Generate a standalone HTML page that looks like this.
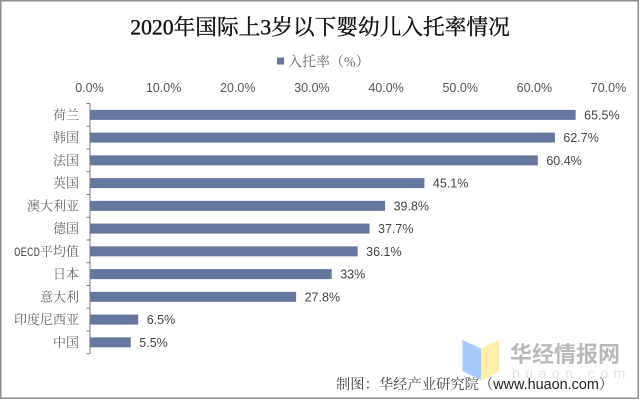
<!DOCTYPE html>
<html>
<head>
<meta charset="utf-8">
<style>
html,body{margin:0;padding:0;background:#fff;width:640px;height:400px;overflow:hidden}
svg{display:block;filter:blur(0.35px)}
text{font-family:"Liberation Sans","Noto Sans CJK SC",sans-serif}
.serif{font-family:"Liberation Serif","Noto Serif CJK SC",serif}
</style>
</head>
<body>
<svg id="chart" width="640" height="400" viewBox="0 0 640 400" xmlns="http://www.w3.org/2000/svg">
  <rect x="0" y="0" width="640" height="400" fill="#ffffff"/>
  <rect x="0.75" y="0.75" width="637.5" height="397.5" fill="none" stroke="#8c8c8c" stroke-width="1.5"/>
  <text class="serif" x="320" y="34.500" text-anchor="middle" font-size="21.7" fill="#111" stroke="#111" stroke-width="0.35">2020年国际上3岁以下婴幼儿入托率情况</text>
  <rect x="277" y="57.500" width="7" height="7" fill="#64789f"/>
  <text class="serif" x="288" y="66.500" font-size="14" fill="#666">入托率（%）</text>
  <g id="x-axis"></g>
  <g id="bars"></g>
  <g id="y-axis"></g>
  <g>
    <polygon points="462.500,340 481,348.500 481,380 462.500,371" fill="#a6c9fb"/>
    <polygon points="481,348.500 499,340 499,372 481,381" fill="#fdeeac"/>
    <text x="510" y="362" font-size="22" font-weight="bold" fill="#b9b9b9">华经情报网</text>
    <text x="512" y="378" font-size="14" letter-spacing="5.500" fill="#e2e2e2">huaon.com</text>
  </g>
  <text class="serif" x="336" y="389" font-size="14.300" fill="#444">制图：华经产业研究院（<tspan font-family="Liberation Sans" font-size="14.400" fill="#222">www.huaon.com</tspan>）</text>
</svg>
<script>
var categories = ['荷兰','韩国','法国','英国','澳大利亚','德国','OECD平均值','日本','意大利','印度尼西亚','中国'];
var rateValues = [65.5,62.7,60.4,45.1,39.8,37.7,36.1,32.6,27.8,6.5,5.5];
var valueLabels = ['65.5%','62.7%','60.4%','45.1%','39.8%','37.7%','36.1%','33%','27.8%','6.5%','5.5%'];
var tickValues = [0,10,20,30,40,50,60,70];
var tickLabels = ['0.0%','10.0%','20.0%','30.0%','40.0%','50.0%','60.0%','70.0%'];

var NS = 'http://www.w3.org/2000/svg';
var plotLeft = 90, plotRight = 609, plotTop = 103.5, plotBottom = 353.7, axisMax = 70;
function xScale(v){ return plotLeft + (plotRight - plotLeft) * v / axisMax; }
function bandTop(i){ return plotTop + (plotBottom - plotTop) * i / categories.length; }
function bandHeight(){ return (plotBottom - plotTop) / categories.length; }
function make(tag, attrs, text){
  var el = document.createElementNS(NS, tag);
  for (var k in attrs) el.setAttribute(k, attrs[k]);
  if (text !== undefined) el.textContent = text;
  return el;
}
var xAxis = document.getElementById('x-axis');
var barsGroup = document.getElementById('bars');
var yAxis = document.getElementById('y-axis');

tickValues.forEach(function(t, i){
  var label = make('text', {x: xScale(t) - 0.5, y: 92, 'text-anchor': 'middle', 'font-size': 12.5, fill: '#555'}, tickLabels[i]);
  
  
  xAxis.appendChild(label);
});

var spine = make('line', {x1: plotLeft, x2: plotLeft, y1: plotTop, y2: plotBottom, stroke: '#777', 'stroke-width': 1});


yAxis.appendChild(spine);

for (var j = 0; j <= categories.length; j++) {
  var y = bandTop(j);
  var tick = make('line', {x1: plotLeft - 3.5, x2: plotLeft, y1: y, y2: y, stroke: '#777', 'stroke-width': 1});
  
  
  yAxis.appendChild(tick);
}

categories.forEach(function(c, i){
  var mid = bandTop(i) + bandHeight() / 2;
  var bar = make('rect', {x: plotLeft, y: mid - 5, width: xScale(rateValues[i]) - plotLeft, height: 10, fill: '#64789f'});
  
  
  barsGroup.appendChild(bar);

  var value = make('text', {x: xScale(rateValues[i]) + 8.5, y: mid + 4.500, 'font-size': 12.500, fill: '#444'}, valueLabels[i]);
  
  
  barsGroup.appendChild(value);

  var name = make('text', {x: 79, y: mid + 4.500, 'text-anchor': 'end', 'font-size': 13, fill: '#666', 'class': 'serif'});
  
  
  var latin = c.match(/^[A-Z]+/);
  if (latin) {
    var run = make('tspan', {'font-family': 'Liberation Mono', 'font-size': 12.5, fill: '#555', textLength: 26, lengthAdjust: 'spacingAndGlyphs'}, latin[0]);
    name.appendChild(run);
    name.appendChild(document.createTextNode(c.slice(latin[0].length)));
  } else {
    name.textContent = c;
  }
  yAxis.appendChild(name);
});
</script>
</body>
</html>
